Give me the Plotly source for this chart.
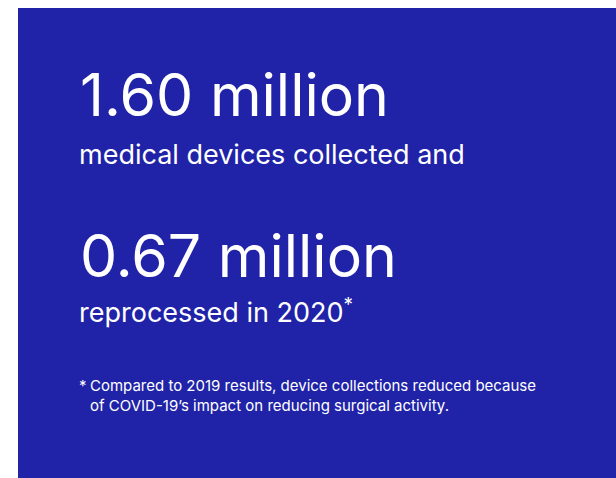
import plotly.graph_objects as go

headline_values = ["1.60 million", "0.67 million"]
headline_captions = ["medical devices collected and", "reprocessed in 2020<sup>*</sup>"]
footnote_lines = ["Compared to 2019 results, device collections reduced because",
                  "of COVID-19’s impact on reducing surgical activity."]

BLUE = "#2023A8"
FONT = "Inter"

fig = go.Figure()
fig.update_layout(
    width=616, height=478,
    margin=dict(l=0, r=0, t=0, b=0),
    paper_bgcolor="white", plot_bgcolor="white",
    xaxis=dict(range=[0, 616], visible=False, fixedrange=True),
    yaxis=dict(range=[478, 0], visible=False, fixedrange=True),
    showlegend=False,
)
fig.add_shape(type="rect", x0=18, x1=616, y0=8, y1=478, fillcolor=BLUE, line_width=0, layer="below")

big_y = [117, 278]
cap_y = [162, 320]
for v, c, by, cy in zip(headline_values, headline_captions, big_y, cap_y):
    fig.add_annotation(x=78, y=by + 15, text=v, showarrow=False, xanchor="left", yanchor="bottom",
                       font=dict(family=FONT, size=59, color="white"))
    fig.add_annotation(x=77, y=cy + 10.5, text=c, showarrow=False, xanchor="left", yanchor="bottom",
                       font=dict(family=FONT, size=27, color="white"))

fig.add_annotation(x=77, y=397, text="*", showarrow=False, xanchor="left", yanchor="bottom",
                   font=dict(family=FONT, size=15, color="white"))
for i, line in enumerate(footnote_lines):
    fig.add_annotation(x=88, y=397 + i * 19.5, text=line, showarrow=False, xanchor="left", yanchor="bottom",
                       font=dict(family=FONT, size=15, color="white"))

fig.write_html("out.html", config={"displayModeBar": False},
               post_script="document.body.style.margin='0';document.body.style.overflow='hidden';")
